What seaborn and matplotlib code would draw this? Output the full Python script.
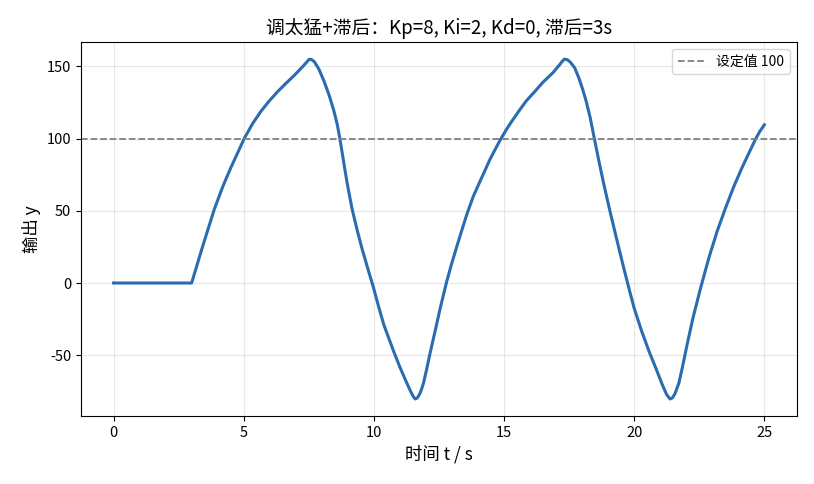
import numpy as np
import pandas as pd
import matplotlib
matplotlib.use("Agg")
import matplotlib.pyplot as plt
import seaborn as sns

# values
t_vals = [0, 3.0, 3.2, 3.4, 3.6, 3.87, 4.19, 4.51, 4.77, 5.02, 5.34, 5.66, 5.98,
          6.30, 6.62, 6.93, 7.25, 7.40, 7.51, 7.60, 7.72, 7.89, 8.08, 8.27, 8.46,
          8.59, 8.69, 8.82, 8.97, 9.16, 9.36, 9.55, 9.76, 9.99, 10.18, 10.38,
          10.57, 10.76, 10.99, 11.21, 11.40, 11.52, 11.59, 11.67, 11.77, 11.85,
          11.91, 12.03, 12.16, 12.35, 12.55, 12.80, 12.99, 13.19, 13.37, 13.57,
          13.82, 14.08, 14.27, 14.46, 14.66, 14.87, 15.12, 15.35, 15.60, 15.86,
          16.18, 16.49, 16.88, 17.13, 17.23, 17.32, 17.43, 17.54, 17.71, 17.87,
          18.02, 18.15, 18.31, 18.47, 18.66, 18.85, 19.07, 19.30, 19.55, 19.81,
          20.0, 20.29, 20.57, 20.83, 21.08, 21.25, 21.38, 21.47, 21.57, 21.65,
          21.72, 21.85, 22.04, 22.26, 22.55, 22.87, 23.19, 23.51, 23.82, 24.14,
          24.46, 24.65, 24.82, 25.0]
y_vals = [0, 0, 12, 24, 35.5, 51, 66.5, 80, 90.2, 100, 110.3, 118.8, 126,
          132.4, 138.2, 143.5, 149.5, 152.5, 154.8, 154.8, 153.0, 148.0, 140.0, 130.6, 119.5,
          110, 100.5, 86, 69.5, 51.5, 36.5, 23.5, 10.4, -3.5, -16.2, -28.8,
          -38.1, -47.3, -57.8, -67.0, -74.6, -78.8, -80.3, -79.5, -76.5, -72.5,
          -69, -59.5, -48.5, -33.5, -17.3, 1.2, 13.5, 25.5, 36, 47.5,
          60, 70.5, 78, 85.6, 92.5, 99.6, 107.1, 113.3, 119.8, 126.2,
          132.5, 138.9, 145.6, 151.0, 153.3, 155.0, 154.6, 153.0, 149.1, 142.2,
          134.1, 126.2, 114.4, 99.9, 83, 67, 49.7, 32.4, 13.9, -4.6,
          -17.5, -33.5, -47.3, -58.9, -70.4, -77.4, -80.3, -79.5, -76.5, -72.5,
          -69, -58.5, -42, -24, -3.5, 17.5, 36, 52, 66.5, 79.8,
          92, 99.2, 104.8, 109.5]
setpoint = 100

df = pd.DataFrame({"t": t_vals, "y": y_vals})

plt.rcParams['font.family'] = ['Noto Sans CJK SC', 'DejaVu Sans']
plt.rcParams['axes.unicode_minus'] = False

fig, ax = plt.subplots(figsize=(8.14, 4.84), dpi=100)
fig.subplots_adjust(left=0.0995, right=0.979, top=0.913, bottom=0.1405)

sns.lineplot(data=df, x="t", y="y", ax=ax, color="#2b6cb0", linewidth=2.2, sort=False)
ax.axhline(setpoint, color="gray", linestyle="--", linewidth=1.3, label=f"设定值 {setpoint}")

ax.set_title("调太猛+滞后：Kp=8, Ki=2, Kd=0, 滞后=3s", fontsize=13.5)
ax.set_xlabel("时间 t / s", fontsize=12.5)
ax.set_ylabel("输出 y", fontsize=12.5)
ax.tick_params(labelsize=10.5)
ax.grid(True, alpha=0.3)
ax.legend(loc="upper right", fontsize=10)

plt.savefig("out.png", dpi=100)
